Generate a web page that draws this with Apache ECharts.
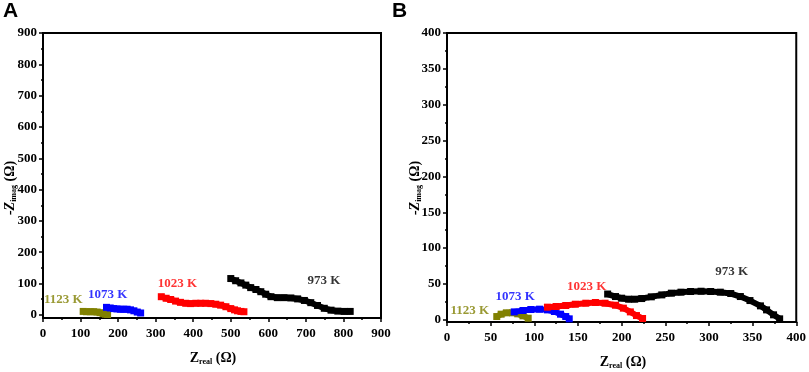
<!DOCTYPE html>
<html>
<head>
<meta charset="utf-8">
<script src="https://cdn.jsdelivr.net/npm/echarts@6/dist/echarts.min.js"></script>
<style>
  html, body { margin: 0; padding: 0; background: #fff; }
  #chart { width: 809px; height: 372px; }
</style>
</head>
<body>
<div id="chart"></div>
<script>
// ── Panel A data (Z_real, -Z_imag) ────────────────────────
const a973x  = [500, 513, 527, 540, 553, 567, 580, 593, 607, 624, 642, 660, 678, 696, 713, 731, 749, 767, 785, 802, 818];
const a973y  = [116, 109, 102, 95, 87, 81, 74, 66, 58, 55, 55, 54, 51, 46, 39, 30, 21, 15, 12, 11, 11];
const a1023x = [315, 328, 340, 353, 366, 380, 393, 407, 420, 433, 447, 460, 473, 487, 500, 510, 518, 527, 535];
const a1023y = [58, 53, 49, 44, 40, 37, 36, 37, 37, 37, 36, 34, 31, 26, 20, 16, 13, 11, 10];
const a1073x = [169, 179, 188, 197, 206, 215, 224, 233, 242, 251, 260];
const a1073y = [24, 22, 20, 19, 18, 18, 18, 16, 13, 9, 6];
const a1123x = [107, 116, 126, 135, 144, 152, 160, 166, 172];
const a1123y = [11, 10, 10, 10, 9, 7, 4, 2, 1];

// ── Panel B data ──────────────────────────────────────────
const b973x  = [184, 193, 200, 208, 215, 223, 234, 246, 257, 268, 279, 291, 302, 313, 325, 336, 347, 359, 366, 374, 381];
const b973y  = [36, 32.5, 30.2, 28.8, 28.8, 29.7, 32.1, 34.8, 37.2, 38.6, 39.5, 39.9, 39.5, 38.6, 36.7, 32.5, 26.9, 19.5, 13.9, 7, 1.4];
const b1023x = [115, 125, 136, 147, 159, 170, 181, 193, 202, 210, 217, 224];
const b1023y = [17.7, 18.6, 20, 21.8, 23.2, 24.2, 23.2, 20.4, 16.3, 11.1, 6, 1.9];
const b1073x = [77, 87, 96, 106, 115, 123, 130, 136, 140];
const b1073y = [11.1, 13, 14.4, 14.9, 13.9, 11.6, 7.9, 4.6, 1.4];
const b1123x = [57, 62, 68, 75, 81, 87, 93];
const b1123y = [4.6, 7.9, 9.8, 9.8, 8.4, 5.6, 2.3];

// ── Labels / colours / ticks ──────────────────────────────
const seriesNames  = ['973 K', '1023 K', '1073 K', '1123 K'];
const seriesColors = ['#000000', '#FF0000', '#0000FF', '#808000'];
const aLabelPos    = [[748, 108], [358, 101], [172, 66], [54, 50]];
const bLabelPos    = [[326, 67], [160, 47], [78, 32], [26, 12.5]];
const aYTicks      = [0, 100, 200, 300, 400, 500, 600, 700, 800, 900];
const aYMinor      = [50, 150, 250, 350, 450, 550, 650, 750, 850];
const bYTicks      = [0, 50, 100, 150, 200, 250, 300, 350, 400];
const bYMinor      = [25, 75, 125, 175, 225, 275, 325, 375];

const SERIF = "'Liberation Serif', 'Times New Roman', serif";
const zip = (xs, ys) => xs.map((x, i) => [x, ys[i]]);

const aSets = [zip(a973x, a973y), zip(a1023x, a1023y), zip(a1073x, a1073y), zip(a1123x, a1123y)];
const bSets = [zip(b973x, b973y), zip(b1023x, b1023y), zip(b1073x, b1073y), zip(b1123x, b1123y)];

const tickLabel = { color: '#000', fontFamily: SERIF, fontWeight: 'bold', fontSize: 13 };

function xAxisFor(grid, max, interval) {
  return {
    gridIndex: grid, type: 'value', min: 0, max, interval,
    axisLine:  { onZero: false, lineStyle: { color: '#000', width: 2 } },
    axisTick:  { length: 4, lineStyle: { color: '#000', width: 1.5 } },
    minorTick: { show: true, splitNumber: 2, length: 2, lineStyle: { color: '#000', width: 1.5 } },
    splitLine: { show: false },
    axisLabel: { ...tickLabel, margin: 9 },
  };
}

function yAxisFor(grid, min, max, ticks) {
  return {
    gridIndex: grid, type: 'value', min, max,
    axisLine:  { onZero: false, lineStyle: { color: '#000', width: 2 } },
    axisTick:  { length: 4, customValues: ticks, lineStyle: { color: '#000', width: 1.5 } },
    splitLine: { show: false },
    axisLabel: { ...tickLabel, margin: 6, customValues: ticks },
  };
}

function yMinorFor(grid, min, max, ticks) {
  return {
    gridIndex: grid, type: 'value', min, max, position: 'left',
    axisLine:  { show: false },
    axisTick:  { length: 2, customValues: ticks, lineStyle: { color: '#000', width: 1.5 } },
    splitLine: { show: false },
    axisLabel: { show: false },
  };
}

function dataSeries(sets, axisIdx) {
  return sets.map((pts, i) => ({
    type: 'line',
    xAxisIndex: axisIdx, yAxisIndex: axisIdx * 2,
    data: pts,
    symbol: 'rect',
    symbolSize: 7,
    showSymbol: true,
    lineStyle: { color: seriesColors[i], width: 6 },
    itemStyle: { color: seriesColors[i] },
    silent: true,
    z: 3 + (3 - i),
  }));
}

function labelSeries(pos, axisIdx) {
  return {
    type: 'scatter',
    xAxisIndex: axisIdx, yAxisIndex: axisIdx * 2,
    symbolSize: 1,
    itemStyle: { color: 'transparent' },
    silent: true,
    z: 10,
    data: pos.map((p, i) => ({
      value: p,
      name: seriesNames[i],
      label: {
        show: true, position: 'inside', formatter: seriesNames[i],
        color: seriesColors[i], fontFamily: SERIF, fontWeight: 'bold', fontSize: 13,
      },
    })),
  };
}

function titleRich() {
  return {
    z:  { fontFamily: SERIF, fontWeight: 'bold', fontSize: 14, lineHeight: 15, fill: '#000' },
    zi: { fontFamily: SERIF, fontWeight: 'bold', fontStyle: 'italic', fontSize: 14, lineHeight: 15, fill: '#000' },
    s:  { fontFamily: SERIF, fontWeight: 'bold', fontSize: 8, lineHeight: 8, verticalAlign: 'bottom', fill: '#000' },
  };
}

const chart = echarts.init(document.getElementById('chart'));

chart.setOption({
  animation: false,
  backgroundColor: '#fff',
  grid: [
    { left: 43, right: 428, top: 33, bottom: 54, show: true, borderColor: '#000', borderWidth: 2 },
    { left: 447, right: 10, top: 33, bottom: 50, show: true, borderColor: '#000', borderWidth: 2 },
  ],
  xAxis: [xAxisFor(0, 900, 100), xAxisFor(1, 400, 50)],
  yAxis: [
    yAxisFor(0, -10, 900, aYTicks), yMinorFor(0, -10, 900, aYMinor),
    yAxisFor(1, -3, 400, bYTicks),  yMinorFor(1, -3, 400, bYMinor),
  ],
  series: [
    ...dataSeries(aSets, 0),
    ...dataSeries(bSets, 1),
    labelSeries(aLabelPos, 0),
    labelSeries(bLabelPos, 1),
  ],
  graphic: [
    { type: 'text', left: 3, top: 1, style: { text: 'A', font: "bold 21px 'Liberation Sans', Arial, sans-serif", fill: '#000' } },
    { type: 'text', left: 392, top: 1, style: { text: 'B', font: "bold 21px 'Liberation Sans', Arial, sans-serif", fill: '#000' } },
    { type: 'text', x: 213, y: 358, style: { text: '{z|Z}{s|real}{z| (Ω)}', rich: titleRich(), align: 'center', verticalAlign: 'middle' } },
    { type: 'text', x: 623, y: 362, style: { text: '{z|Z}{s|real}{z| (Ω)}', rich: titleRich(), align: 'center', verticalAlign: 'middle' } },
    { type: 'text', x: 10, y: 188, rotation: Math.PI / 2, style: { text: '{zi|-Z}{s|imag}{z| (Ω)}', rich: titleRich(), align: 'center', verticalAlign: 'middle' } },
    { type: 'text', x: 415, y: 188, rotation: Math.PI / 2, style: { text: '{zi|-Z}{s|imag}{z| (Ω)}', rich: titleRich(), align: 'center', verticalAlign: 'middle' } },
  ],
});
</script>
</body>
</html>
